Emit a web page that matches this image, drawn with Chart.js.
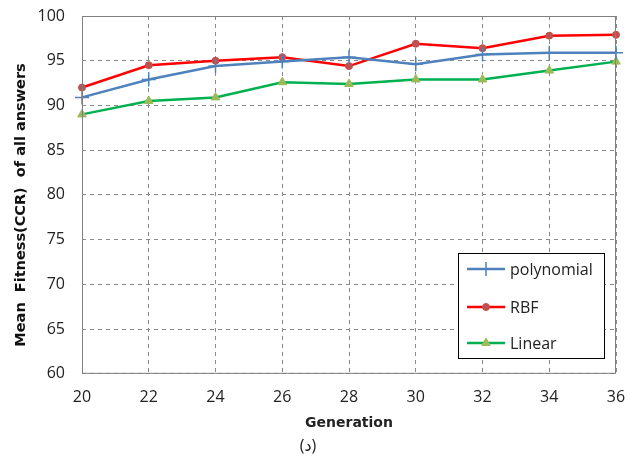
<!DOCTYPE html>
<html>
<head>
<meta charset="utf-8">
<script src="https://cdn.jsdelivr.net/npm/chart.js@4"></script>
<style>
  html, body { margin: 0; padding: 0; background: #fff; }
  #lienzo { display: block; }
</style>
</head>
<body>
<canvas id="lienzo" width="630" height="461"></canvas>
<script>
// valores
const generaciones = [20, 22, 24, 26, 28, 30, 32, 34, 36];
const polynomial = [90.9, 92.9, 94.4, 94.9, 95.4, 94.6, 95.7, 95.9, 95.9];
const rbf = [92.0, 94.5, 95.0, 95.4, 94.4, 96.9, 96.4, 97.8, 97.9];
const linear = [89.0, 90.5, 90.9, 92.6, 92.4, 92.9, 92.9, 93.9, 94.9];
const ticksY = [60, 65, 70, 75, 80, 85, 90, 95, 100];

const fuente = "'Open Sans', 'DejaVu Sans', sans-serif";
const fuenteNegrita = "'DejaVu Sans', sans-serif";

function puntos(valores) {
    return generaciones.map((g, i) => ({ x: g, y: valores[i] }));
}

// marco del area y leyenda con borde
const marcoYLeyenda = {
    id: 'marcoYLeyenda',
    afterDraw(chart) {
        const ctx = chart.ctx;
        const a = chart.chartArea;
        ctx.save();
        ctx.strokeStyle = '#7f7f7f';
        ctx.lineWidth = 1;
        ctx.setLineDash([]);
        ctx.strokeRect(a.left + 0.5, a.top + 0.5, a.right - a.left - 1, a.bottom - a.top - 1);

        // leyenda
        const lx = 458, ly = 253, lw = 146, lh = 105;
        ctx.fillStyle = '#fff';
        ctx.fillRect(lx, ly, lw, lh);
        ctx.strokeStyle = '#000';
        ctx.strokeRect(lx + 0.5, ly + 0.5, lw, lh);
        const filas = [269, 307, 343];
        chart.data.datasets.forEach((ds, i) => {
            const y = filas[i];
            ctx.strokeStyle = ds.borderColor;
            ctx.lineWidth = 2.5;
            ctx.beginPath();
            ctx.moveTo(467, y);
            ctx.lineTo(505, y);
            ctx.stroke();
            ctx.fillStyle = ds.pointBackgroundColor;
            ctx.strokeStyle = ds.pointBorderColor;
            ctx.lineWidth = ds.pointBorderWidth;
            Chart.helpers.drawPoint(ctx, {
                pointStyle: ds.pointStyle,
                radius: ds.pointRadius,
                borderWidth: ds.pointBorderWidth
            }, 486, y);
            ctx.fillStyle = '#222';
            ctx.font = '16px ' + fuente;
            ctx.textBaseline = 'middle';
            ctx.textAlign = 'left';
            ctx.fillText(ds.label, 510, y + 1);
        });
        ctx.restore();
    }
};

const contexto = document.getElementById("lienzo").getContext("2d");
const grafico = new Chart(contexto, {
    type: 'line',
    data: {
        datasets: [
            {
                label: 'polynomial',
                data: puntos(polynomial),
                borderColor: '#4f81bd',
                borderWidth: 2.5,
                pointStyle: 'cross',
                pointRadius: 7,
                pointBorderWidth: 1.5,
                pointBorderColor: '#4f81bd',
                pointBackgroundColor: '#4f81bd',
                clip: false
            },
            {
                label: 'RBF',
                data: puntos(rbf),
                borderColor: '#ff0000',
                borderWidth: 2.5,
                pointStyle: 'circle',
                pointRadius: 3.5,
                pointBorderWidth: 1,
                pointBorderColor: '#c0504d',
                pointBackgroundColor: '#c0504d',
                clip: false
            },
            {
                label: 'Linear',
                data: puntos(linear),
                borderColor: '#00b050',
                borderWidth: 2.5,
                pointStyle: 'triangle',
                pointRadius: 5,
                pointBorderWidth: 1,
                pointBorderColor: '#9bbb59',
                pointBackgroundColor: '#9bbb59',
                clip: false
            }
        ]
    },
    options: {
        responsive: false,
        animation: false,
        layout: { padding: { left: 0, right: 14, top: 16, bottom: 0 } },
        scales: {
            x: {
                type: 'linear',
                min: 20,
                max: 36,
                afterFit: (s) => { s.height = 63; s.paddingLeft = 0; s.paddingRight = 0; },
                ticks: {
                    stepSize: 2,
                    padding: 14,
                    color: '#222',
                    font: { family: fuente, size: 16 }
                },
                grid: { color: '#8a8a8a', drawTicks: false },
                border: { display: false, dash: [4, 4] },
                title: {
                    display: true,
                    text: 'Generation',
                    color: '#222',
                    font: { family: fuenteNegrita, size: 14, weight: 'bold' },
                    padding: { top: 0, bottom: 5 }
                }
            },
            y: {
                min: 60,
                max: 100,
                afterFit: (s) => { s.width = 82; s.paddingTop = 0; s.paddingBottom = 0; },
                afterBuildTicks: (s) => { s.ticks = ticksY.map(v => ({ value: v })); },
                ticks: {
                    padding: 17,
                    color: '#222',
                    font: { family: fuente, size: 16 }
                },
                grid: { color: '#8a8a8a', drawTicks: false },
                border: { display: false, dash: [4, 4] },
                title: {
                    display: true,
                    text: 'Mean  Fitness(CCR)  of all answers    ',
                    color: '#111',
                    font: { family: fuenteNegrita, size: 14.5, weight: 'bold' },
                    padding: { top: 13, bottom: 4 }
                }
            }
        },
        plugins: {
            legend: { display: false },
            tooltip: { enabled: false },
            title: {
                display: true,
                position: 'bottom',
                text: '(د)',
                color: '#222',
                font: { family: fuente, size: 16, weight: 'normal' },
                padding: { top: 0, bottom: 5 }
            }
        }
    },
    plugins: [marcoYLeyenda]
});
</script>
</body>
</html>
